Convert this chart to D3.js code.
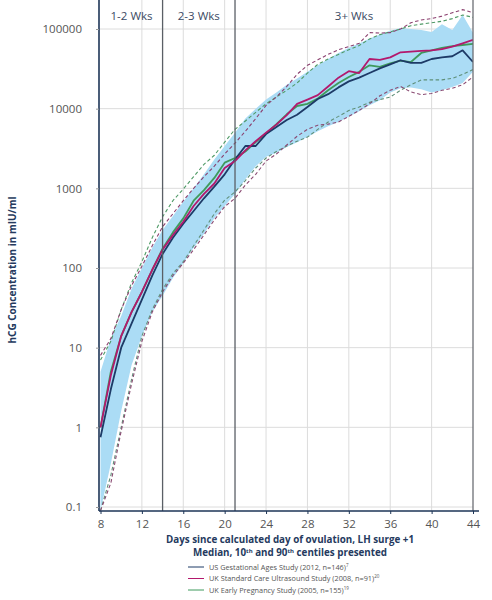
<!DOCTYPE html>
<html>
<head>
<meta charset="utf-8">
<script src="https://cdn.jsdelivr.net/npm/d3@7"></script>
<style>
  body { margin: 0; background: #fff; }
  svg { font-family: "Open Sans", sans-serif; }
</style>
</head>
<body>
<div id="chart"></div>
<script>
// days since ovulation, 8..44
const days = d3.range(8, 45);

const usMedian = [0.75, 3, 10, 20, 40, 80, 150, 240, 360, 520, 750, 1050, 1500, 2300, 3400, 3400, 4800, 5900, 7200, 8400, 10500, 13200, 15200, 18500, 22000, 24500, 28000, 32000, 36000, 40500, 37500, 37500, 42000, 44000, 45500, 54000, 38500];
const ukStdMedian = [1.0, 4.5, 14, 28, 50, 95, 170, 260, 380, 600, 850, 1150, 1800, 2200, 3000, 3900, 5000, 6300, 8300, 11500, 13000, 14800, 19000, 24500, 29500, 28000, 42000, 41000, 44000, 51000, 52000, 53000, 54000, 56000, 60000, 66000, 73000];
const ukEarlyMedian = [1.0, 5, 14, 28, 50, 95, 175, 280, 420, 700, 950, 1350, 2100, 2400, 2900, 3800, 4900, 6400, 8500, 10800, 11500, 13400, 17000, 21000, 25000, 29000, 35000, 33500, 37000, 40000, 38500, 50000, 54000, 58000, 61000, 63000, 65000];

// light blue range
const bandLower = [0.09, 0.35, 1.6, 6, 14, 28, 45, 75, 115, 180, 270, 420, 600, 850, 1300, 1900, 2500, 2800, 3300, 3800, 4400, 5200, 6000, 6800, 7900, 9300, 11000, 12800, 16000, 18000, 18500, 17500, 16000, 17000, 18700, 21000, 29000];
const bandUpper = [5, 13, 25, 55, 100, 180, 300, 450, 680, 1000, 1500, 2300, 3400, 5000, 7500, 10000, 13000, 16000, 20000, 24000, 29000, 35000, 42000, 50000, 58000, 66000, 76000, 85000, 95000, 103000, 100000, 97000, 92000, 115000, 97000, 150000, 90000];

// 10th / 90th centiles
const ukStd10 = [0.09, 0.2, 0.9, 3.5, 12, 28, 50, 80, 115, 170, 260, 400, 590, 750, 1100, 1500, 2200, 2700, 3500, 4500, 5500, 6200, 6400, 6800, 8000, 9500, 11500, 14500, 17000, 19000, 16200, 15000, 15500, 17000, 18000, 20000, 25000];
const ukStd90 = [8, 13, 30, 60, 105, 190, 330, 480, 700, 1000, 1400, 1900, 2700, 3700, 5200, 7500, 11000, 14000, 19000, 27000, 35000, 41000, 48000, 55000, 60000, 66000, 90000, 89000, 90000, 100000, 120000, 130000, 135000, 145000, 160000, 175000, 160000];
const ukEarly10 = [0.09, 0.25, 1.0, 4, 14, 30, 54, 85, 120, 190, 300, 480, 710, 900, 1250, 1800, 2400, 2900, 3400, 3900, 4400, 5500, 6800, 8000, 9500, 10500, 12000, 13000, 14000, 17000, 20000, 23000, 23000, 23000, 24000, 27000, 31000];
const ukEarly90 = [7, 12, 30, 65, 120, 240, 440, 700, 980, 1400, 2000, 2600, 3800, 5500, 7000, 9000, 11500, 14000, 17000, 21000, 28000, 36000, 42000, 48000, 55000, 62000, 75000, 85000, 92000, 100000, 110000, 115000, 120000, 125000, 135000, 150000, 140000];

const xTicks = [8, 12, 16, 20, 24, 28, 32, 36, 40, 44];
const yTicks = [0.1, 1, 10, 100, 1000, 10000, 100000];
const weekBreaks = [14, 21];
const weekLabels = [
    { text: "1-2 Wks", from: 8, to: 14 },
    { text: "2-3 Wks", from: 14, to: 21 },
    { text: "3+ Wks", from: 21, to: 44 }
];

const legendItems = [
    { name: "US Gestational Ages Study (2012, n=146)", sup: "7", color: "#1d3a66" },
    { name: "UK Standard Care Ultrasound Study (2008, n=91)", sup: "20", color: "#b3186d" },
    { name: "UK Early Pregnancy Study (2005, n=155)", sup: "19", color: "#3f9a5c" }
];

const width = 492, height = 600;
const plotTop = 0, plotBottom = 511, plotLeft = 99, plotRight = 473;

const svg = d3.select("#chart").append("svg")
    .attr("width", width)
    .attr("height", height);

const x = d3.scaleLinear().domain([8, 44]).range([100.5, 473]);
const y = d3.scaleLog().domain([0.1, 100000]).range([507, 29]);

svg.append("clipPath").attr("id", "plotClip")
    .append("rect")
    .attr("x", plotLeft).attr("y", plotTop)
    .attr("width", plotRight - plotLeft).attr("height", plotBottom - plotTop);

// grid
const grid = svg.append("g");
grid.selectAll("line.h")
    .data(yTicks)
    .enter().append("line")
    .attr("x1", plotLeft).attr("x2", plotRight)
    .attr("y1", d => y(d)).attr("y2", d => y(d))
    .attr("stroke", "#dcdcdc").attr("stroke-width", 1);
grid.selectAll("line.v")
    .data(xTicks.slice(1, -1))
    .enter().append("line")
    .attr("x1", d => x(d)).attr("x2", d => x(d))
    .attr("y1", plotTop).attr("y2", plotBottom)
    .attr("stroke", "#dcdcdc").attr("stroke-width", 1);

const g = svg.append("g").attr("clip-path", "url(#plotClip)");

// blue range
const area = d3.area()
    .x((d, i) => x(days[i]))
    .y0((d, i) => y(bandLower[i]))
    .y1((d, i) => y(bandUpper[i]));
g.append("path")
    .datum(days)
    .attr("d", area)
    .attr("fill", "#abdcf5");

// week separators
svg.selectAll("line.week")
    .data(weekBreaks)
    .enter().append("line")
    .attr("x1", d => x(d)).attr("x2", d => x(d))
    .attr("y1", plotTop).attr("y2", plotBottom)
    .attr("stroke", "#5a5f66").attr("stroke-width", 1.3);

// right edge
svg.append("line")
    .attr("x1", x(44)).attr("x2", x(44))
    .attr("y1", plotTop).attr("y2", plotBottom)
    .attr("stroke", "#6c6f75").attr("stroke-width", 1.3);

const line = d3.line()
    .x((d, i) => x(days[i]))
    .y(d => y(d));

// dashed centiles
const dashed = [
    { values: ukEarly90, color: "#4f9a66" },
    { values: ukEarly10, color: "#5f8f78" },
    { values: ukStd90, color: "#8a3f6e" },
    { values: ukStd10, color: "#8a4a72" }
];
g.selectAll("path.centile")
    .data(dashed)
    .enter().append("path")
    .attr("class", "centile")
    .attr("d", d => line(d.values))
    .attr("fill", "none")
    .attr("stroke", d => d.color)
    .attr("stroke-width", 1.1)
    .attr("stroke-dasharray", "3.5,2.5");

// medians
const medians = [
    { values: ukEarlyMedian, color: legendItems[2].color },
    { values: usMedian, color: legendItems[0].color },
    { values: ukStdMedian, color: legendItems[1].color }
];
g.selectAll("path.median")
    .data(medians)
    .enter().append("path")
    .attr("class", "median")
    .attr("d", d => line(d.values))
    .attr("fill", "none")
    .attr("stroke", d => d.color)
    .attr("stroke-width", 1.8)
    .attr("stroke-linejoin", "round");

// axes
const xAxis = svg.append("g")
    .attr("transform", `translate(0,${plotBottom})`)
    .call(d3.axisBottom(x).tickValues(xTicks).tickSize(3).tickPadding(6));
xAxis.select(".domain").attr("stroke", "#1d3557").attr("stroke-width", 1.6)
    .attr("d", `M${plotLeft},0H${plotRight + 6}`);
xAxis.selectAll(".tick line").attr("stroke", "#1d3557");
xAxis.selectAll(".tick text")
    .attr("fill", "#555").attr("font-size", 11.5)
    .attr("font-family", "Open Sans, sans-serif");

const yAxis = svg.append("g")
    .attr("transform", `translate(${plotLeft},0)`)
    .call(d3.axisLeft(y).tickValues(yTicks).tickFormat(d3.format("~g")).tickSize(3).tickPadding(14));
yAxis.select(".domain").attr("stroke", "#1d3557").attr("stroke-width", 1.6)
    .attr("d", `M0,${plotTop}V${plotBottom}`);
yAxis.selectAll(".tick line").attr("stroke", "#999");
yAxis.selectAll(".tick text")
    .attr("fill", "#555").attr("font-size", 11.5)
    .attr("font-family", "Open Sans, sans-serif");

// week labels
svg.selectAll("text.week")
    .data(weekLabels)
    .enter().append("text")
    .attr("x", d => (x(d.from) + x(d.to)) / 2)
    .attr("y", 20)
    .attr("text-anchor", "middle")
    .attr("fill", "#3b4a63")
    .attr("font-size", 11.5)
    .text(d => d.text);

// axis titles
svg.append("text")
    .attr("transform", "translate(16,270) rotate(-90)")
    .attr("text-anchor", "middle")
    .attr("fill", "#253a5e")
    .attr("font-size", 10)
    .attr("font-weight", "bold")
    .text("hCG Concentration in mIU/ml");

svg.append("text")
    .attr("x", 290).attr("y", 543)
    .attr("text-anchor", "middle")
    .attr("fill", "#253a5e")
    .attr("font-size", 9.8)
    .attr("font-weight", "bold")
    .text("Days since calculated day of ovulation, LH surge +1");

const sub = svg.append("text")
    .attr("x", 290).attr("y", 556)
    .attr("text-anchor", "middle")
    .attr("fill", "#253a5e")
    .attr("font-size", 9.8)
    .attr("font-weight", "bold");
sub.append("tspan").text("Median, 10");
sub.append("tspan").attr("font-size", 6).attr("dy", -3.5).text("th");
sub.append("tspan").attr("dy", 3.5).text(" and 90");
sub.append("tspan").attr("font-size", 6).attr("dy", -3.5).text("th");
sub.append("tspan").attr("dy", 3.5).text(" centiles presented");

// legend
const legend = svg.append("g");
const rows = legend.selectAll("g")
    .data(legendItems)
    .enter().append("g")
    .attr("transform", (d, i) => `translate(188,${567 + i * 11.5})`);
rows.append("line")
    .attr("x1", 0).attr("x2", 16)
    .attr("y1", 0).attr("y2", 0)
    .attr("stroke", d => d.color).attr("stroke-width", 1);
const lt = rows.append("text")
    .attr("x", 21).attr("y", 2.5)
    .attr("fill", "#555")
    .attr("font-size", 7.3);
lt.append("tspan").text(d => d.name);
lt.append("tspan").attr("font-size", 4.5).attr("dy", -3).text(d => d.sup);
</script>
</body>
</html>
